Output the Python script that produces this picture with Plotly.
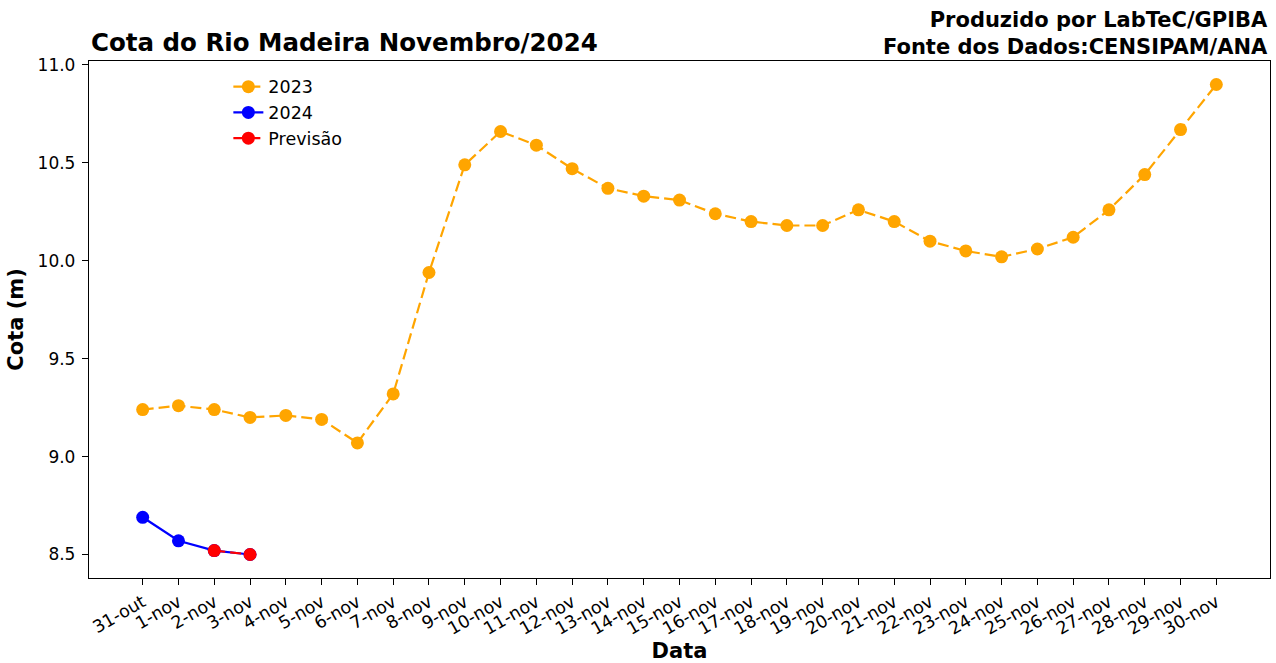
import plotly.graph_objects as go

labels = ["31-out"] + [f"{d}-nov" for d in range(1, 31)]
cota_2023 = [9.24, 9.26, 9.24, 9.20, 9.21, 9.19, 9.07, 9.32, 9.94, 10.49,
             10.66, 10.59, 10.47, 10.37, 10.33, 10.31, 10.24, 10.20, 10.18, 10.18,
             10.26, 10.20, 10.10, 10.05, 10.02, 10.06, 10.12, 10.26, 10.44, 10.67, 10.90]
cota_2024 = [8.69, 8.57, 8.52, 8.50]
previsao_idx = [2, 3]
previsao = [8.52, 8.50]

x_all = list(range(len(labels)))
FONT = "DejaVu Sans"

fig = go.Figure()
fig.add_trace(go.Scatter(x=x_all, y=cota_2023, name="2023", mode="lines+markers",
                         line=dict(color="orange", width=2.2, dash="11px,5px"),
                         marker=dict(color="orange", size=13)))
fig.add_trace(go.Scatter(x=x_all[:len(cota_2024)], y=cota_2024, name="2024", mode="lines+markers",
                         line=dict(color="blue", width=2.2),
                         marker=dict(color="blue", size=13)))
fig.add_trace(go.Scatter(x=previsao_idx, y=previsao, name="Previsão", mode="lines+markers",
                         line=dict(color="red", width=2.2, dash="11px,5px"),
                         marker=dict(color="red", size=13)))

fig.update_layout(
    width=1276, height=663,
    margin=dict(l=89, r=6, t=61, b=85, autoexpand=False),
    plot_bgcolor="white", paper_bgcolor="white",
    font=dict(family=FONT, color="black", size=17),
    showlegend=True,
    legend=dict(x=0.118, y=0.985, xanchor="left", yanchor="top",
                bgcolor="rgba(255,255,255,0)", borderwidth=0,
                font=dict(family=FONT, size=17.5), tracegroupgap=0),
    xaxis=dict(range=[-1.5, 31.5], tickmode="array", tickvals=x_all, ticktext=labels,
               tickangle=-30, ticks="outside", ticklen=6, tickcolor="black",
               showline=True, linecolor="black", linewidth=1.3, mirror=True,
               showgrid=False, zeroline=False, automargin=False,
               tickfont=dict(family=FONT, size=17.5),
               title=dict(text="<b>Data</b>", font=dict(family=FONT, size=21), standoff=8)),
    yaxis=dict(range=[8.38, 11.02], tickmode="array",
               tickvals=[8.5, 9.0, 9.5, 10.0, 10.5, 11.0],
               ticktext=["8.5", "9.0", "9.5", "10.0", "10.5", "11.0"],
               ticks="outside", ticklen=6, tickcolor="black", ticklabelstandoff=3,
               showline=True, linecolor="black", linewidth=1.3, mirror=True,
               showgrid=False, zeroline=False, automargin=False,
               tickfont=dict(family=FONT, size=17),
               title=dict(text="<b>Cota (m)</b>", font=dict(family=FONT, size=21), standoff=8)),
    annotations=[
        dict(text="<b>Cota do Rio Madeira Novembro/2024</b>", xref="paper", yref="paper",
             x=0, y=1, xanchor="left", yanchor="bottom", yshift=2, showarrow=False,
             font=dict(family=FONT, size=24.5)),
        dict(text="<b>Produzido por LabTeC/GPIBA<br>Fonte dos Dados:CENSIPAM/ANA</b>",
             xref="paper", yref="paper", x=1, y=1, xanchor="right", yanchor="bottom",
             yshift=0, align="right", showarrow=False,
             font=dict(family=FONT, size=21)),
    ],
)

fig.write_html("out.html", config={"displayModeBar": False},
               post_script="document.body.style.margin='0';document.body.style.overflow='hidden';")
